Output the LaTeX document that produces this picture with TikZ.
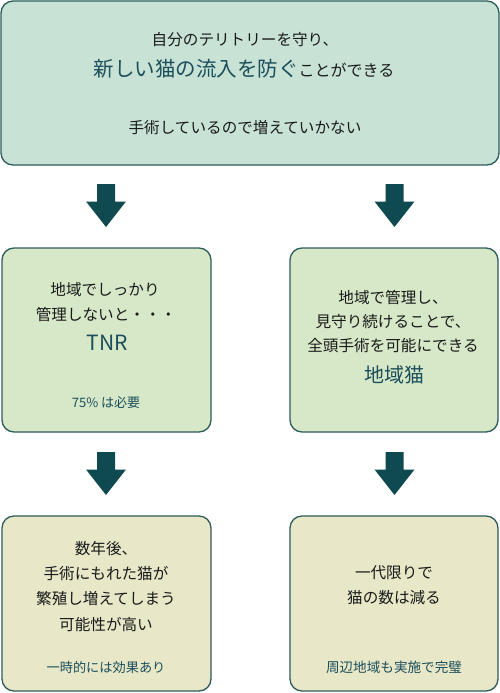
\documentclass[tikz,border=0pt]{standalone}
\usepackage{fontspec}
\setmainfont{Noto Sans CJK JP}
\definecolor{boxline}{HTML}{2E5C5C}
\definecolor{fillA}{HTML}{C8E3D6}
\definecolor{fillB}{HTML}{D6E8C8}
\definecolor{fillC}{HTML}{E8E8C9}
\definecolor{arrowc}{HTML}{0F4A50}
\definecolor{hl}{HTML}{1B4E5A}
\definecolor{txt}{HTML}{1A1A1A}
\tikzset{
  box/.style={draw=boxline, line width=1.3pt, rounded corners=12pt, inner sep=0pt},
  txtn/.style={inner sep=0pt, text=txt, font=\fontsize{15.6}{18}\selectfont},
  hln/.style={inner sep=0pt, text=hl},
  pics/blockarrow/.style={code={
    \fill[arrowc] (-9,0) -- (9,0) -- (9,17.5) -- (20,17.5) -- (0,43) -- (-20,17.5) -- (-9,17.5) -- cycle;
  }}
}
\begin{document}
\begin{tikzpicture}[x=1pt,y=-1pt]
\useasboundingbox (0,0) rectangle (500,693);
% boxes
\draw[box, fill=fillA] (1,1) rectangle (499,165);
\draw[box, fill=fillB] (2,248) rectangle (211,432);
\draw[box, fill=fillB] (290,248) rectangle (498,432);
\draw[box, fill=fillC] (2,516) rectangle (211,691);
\draw[box, fill=fillC] (290,516) rectangle (498,691);
% arrows
\coordinate (a1) at (106,184);
\coordinate (a2) at (394.5,184);
\coordinate (a3) at (106,452);
\coordinate (a4) at (394.5,452);
\pic at (a1) {blockarrow};
\pic at (a2) {blockarrow};
\pic at (a3) {blockarrow};
\pic at (a4) {blockarrow};
% top texts
\node[txtn] (t1) at (245,40) {自分のテリトリーを守り、};
\node[inner sep=0pt, text=txt] (t2) at (244,69) {{\fontsize{20.5}{24}\selectfont\color{hl}新しい猫の流入を防ぐ}{\fontsize{16}{19}\selectfont ことができる}};
\node[txtn] (t3) at (245,128) {手術しているので増えていかない};
% middle left
\node[txtn] (ml1) at (105,290) {地域でしっかり};
\node[txtn] (ml2) at (106,315) {管理しないと・・・};
\node[hln, font=\fontsize{21}{25}\selectfont] (ml3) at (107,343) {TNR};
\node[hln, font=\fontsize{13}{16}\selectfont] (ml4) at (106,403) {75\% は必要};
% middle right
\node[txtn] (mr1) at (393,298) {地域で管理し、};
\node[txtn] (mr2) at (393,322) {見守り続けることで、};
\node[txtn] (mr3) at (393,346) {全頭手術を可能にできる};
\node[hln, font=\fontsize{20}{24}\selectfont] (mr4) at (394,375) {地域猫};
% bottom left
\node[txtn] (bl1) at (106,549) {数年後、};
\node[txtn] (bl2) at (106,574) {手術にもれた猫が};
\node[txtn] (bl3) at (106,599) {繁殖し増えてしまう};
\node[txtn] (bl4) at (106,625) {可能性が高い};
\node[hln, font=\fontsize{13.2}{16}\selectfont] (bl5) at (106,667) {一時的には効果あり};
% bottom right
\node[txtn] (br1) at (394,573) {一代限りで};
\node[txtn] (br2) at (394,598) {猫の数は減る};
\node[hln, font=\fontsize{13.6}{16}\selectfont] (br3) at (394,667) {周辺地域も実施で完璧};
\end{tikzpicture}
\end{document}
